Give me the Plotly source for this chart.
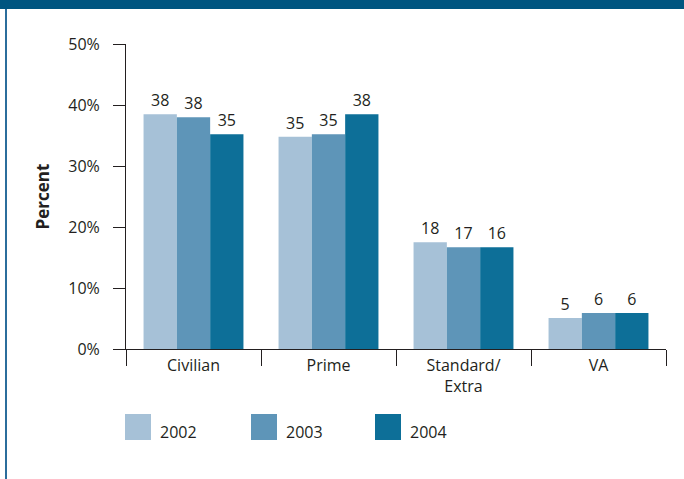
import plotly.graph_objects as go

categories = ["Civilian", "Prime", "Standard/<br>Extra", "VA"]
years = ["2002", "2003", "2004"]
values_2002 = [38.5, 34.8, 17.5, 5.1]
values_2003 = [38.0, 35.2, 16.7, 5.9]
values_2004 = [35.2, 38.5, 16.7, 5.9]
labels_2002 = ["38", "35", "18", "5"]
labels_2003 = ["38", "35", "17", "6"]
labels_2004 = ["35", "38", "16", "6"]
colors = ["#a6c1d7", "#5e95b8", "#0d6f98"]
y_ticks = [0, 10, 20, 30, 40, 50]
y_tick_text = ["0%", "10%", "20%", "30%", "40%", "50%"]

series = [values_2002, values_2003, values_2004]
labels = [labels_2002, labels_2003, labels_2004]

W, H = 684, 479
L, R, T, B = 126, 18, 44, 130
pw, ph = W - L - R, H - T - B
TXT = "#231f20"
FONT = "Open Sans"

fig = go.Figure()
for yr, vals, lab, col in zip(years, series, labels, colors):
    fig.add_trace(go.Bar(
        x=categories, y=vals, name=yr, marker=dict(color=col, line=dict(width=0)),
        text=lab, textposition="outside", cliponaxis=False,
        textfont=dict(size=16, color=TXT, family=FONT),
    ))

def px_x(p):
    return (p - L) / pw

def px_y(p):
    return (H - B - p) / ph

shapes = [
    # top banner
    dict(type="rect", xref="paper", yref="paper", x0=px_x(0), x1=px_x(W), y0=px_y(9), y1=px_y(0),
         fillcolor="#005580", line=dict(width=0), layer="below"),
    # left rule
    dict(type="line", xref="paper", yref="paper", x0=px_x(6), x1=px_x(6), y0=px_y(9), y1=px_y(W),
         line=dict(color="#2b6d9c", width=2)),
]
annotations = []
legend_x = [125, 251, 375]
for i, (yr, col) in enumerate(zip(years, colors)):
    x0 = legend_x[i]
    shapes.append(dict(type="rect", xref="paper", yref="paper",
                       x0=px_x(x0), x1=px_x(x0 + 26), y0=px_y(440), y1=px_y(414),
                       fillcolor=col, line=dict(width=0)))
    annotations.append(dict(xref="paper", yref="paper", x=px_x(x0 + 33), y=px_y(432),
                            text=yr, showarrow=False, xanchor="left", yanchor="middle",
                            font=dict(size=16, color=TXT, family=FONT)))

fig.update_layout(
    width=W, height=H, autosize=False,
    margin=dict(l=L, r=R, t=T, b=B, pad=0),
    paper_bgcolor="white", plot_bgcolor="white",
    barmode="group", bargap=0.26, bargroupgap=0,
    showlegend=False,
    font=dict(family=FONT, size=16, color=TXT),
    shapes=shapes, annotations=annotations,
    xaxis=dict(showline=True, linecolor=TXT, linewidth=1, ticks="outside", tickson="boundaries",
               ticklen=16, tickcolor=TXT, tickwidth=1, showgrid=False,
               tickfont=dict(size=16, color=TXT, family=FONT), ticklabelstandoff=2),
    yaxis=dict(range=[0, 50], tickmode="array", tickvals=y_ticks, ticktext=y_tick_text,
               showline=True, linecolor=TXT,
               linewidth=1, ticks="outside", ticklen=12, tickcolor=TXT, tickwidth=1,
               showgrid=False, zeroline=False, ticklabelstandoff=10,
               tickfont=dict(size=16, color=TXT, family=FONT),
               title=dict(text="<b>Percent</b>", font=dict(size=17, color=TXT, family=FONT), standoff=14)),
)

fig.write_html("out.html")
